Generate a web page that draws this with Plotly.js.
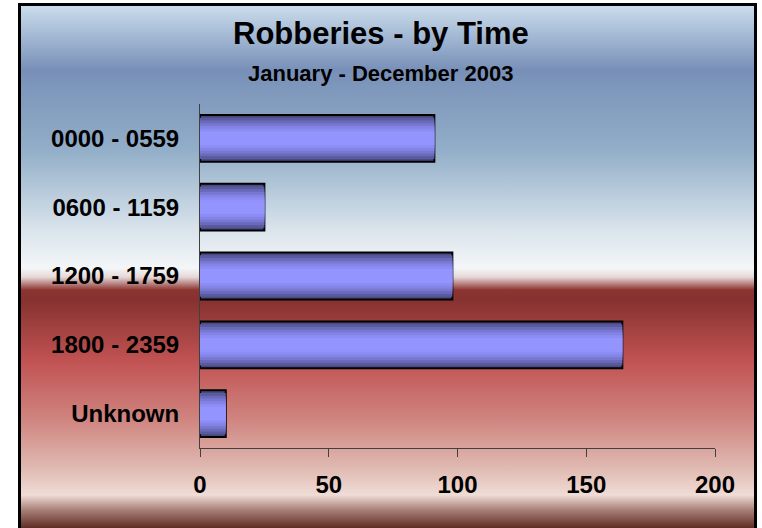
<!DOCTYPE html>
<html>
<head>
<meta charset="utf-8">
<script src="https://cdn.plot.ly/plotly-3.0.1.min.js"></script>
<style>
  html, body { margin: 0; padding: 0; background: #ffffff; }
  #wrap { position: relative; width: 762px; height: 528px; overflow: hidden; background: #ffffff; }
  #frame {
    position: absolute; left: 18px; top: 3px; width: 739px; height: 530px;
    box-sizing: border-box;
    border-left: 3px solid #000; border-top: 3px solid #000; border-right: 3px solid #000;
    background: linear-gradient(to bottom,
      #cadcec 0px, #7890b8 64px, #92aec8 144px, #dae4ec 224px, #f4f6f8 262px,
      #e6d8d8 271px, #8c3430 284px, #863230 294px, #c05252 354px, #d08580 414px,
      #e0bcb4 464px, #f0dcd6 489px, #a88078 504px, #602c24 522px);
  }
  #chart { position: absolute; left: 0; top: 0; width: 762px; height: 528px; }
</style>
</head>
<body>
<div id="wrap">
  <div id="frame"></div>
  <div id="chart"></div>
</div>
<script>
// Data
const categories = ['0000 - 0559', '0600 - 1159', '1200 - 1759', '1800 - 2359', 'Unknown'];
const robberies = [91, 25, 98, 164, 10];
const xTicks = [0, 50, 100, 150, 200];
const titleText = 'Robberies - by Time';
const subtitleText = 'January - December 2003';

// Bar shading layers (style only): outer to inner
const layerWidths = [0.68, 0.60, 0.52, 0.44, 0.36, 0.28, 0.20];
const layerColors = ['#4a4a82', '#5a5a9e', '#6a6aba', '#7878d2', '#8484e6', '#8c8cf4', '#9494ff'];

const font = 'Liberation Sans, Arial, sans-serif';

const traces = layerWidths.map((w, i) => ({
  type: 'bar',
  orientation: 'h',
  y: categories,
  x: robberies,
  width: w,
  marker: {
    color: layerColors[i],
    line: i === 0 ? { color: '#000000', width: 2 } : { width: 0 }
  },
  hoverinfo: 'skip'
}));

const layout = {
  width: 762,
  height: 528,
  paper_bgcolor: 'rgba(0,0,0,0)',
  plot_bgcolor: 'rgba(0,0,0,0)',
  margin: { l: 200, r: 47, t: 104, b: 80 },
  barmode: 'overlay',
  showlegend: false,
  font: { family: font, color: '#000000' },
  annotations: [
    {
      text: '<b>' + titleText + '</b>',
      xref: 'paper', yref: 'paper', x: 0.351, y: 1.2035,
      xanchor: 'center', yanchor: 'middle', showarrow: false,
      font: { family: font, size: 31, color: '#000000' }
    },
    {
      text: '<b>' + subtitleText + '</b>',
      xref: 'paper', yref: 'paper', x: 0.351, y: 1.090,
      xanchor: 'center', yanchor: 'middle', showarrow: false,
      font: { family: font, size: 22, color: '#000000' }
    }
  ],
  xaxis: {
    range: [0, 200],
    tickvals: xTicks,
    ticktext: xTicks.map(v => '<b>' + v + '</b>'),
    ticks: 'outside',
    ticklen: 8,
    tickwidth: 1,
    tickcolor: '#404040',
    showline: true,
    linecolor: '#404040',
    linewidth: 1,
    showgrid: false,
    zeroline: false,
    tickfont: { family: font, size: 24, color: '#000000' },
    ticklabelstandoff: 7,
    fixedrange: true
  },
  yaxis: {
    type: 'category',
    categoryorder: 'array',
    categoryarray: categories,
    autorange: 'reversed',
    ticktext: categories.map(c => '<b>' + c + '</b>'),
    tickvals: categories,
    ticks: '',
    showline: true,
    linecolor: '#404040',
    linewidth: 1,
    showgrid: false,
    zeroline: false,
    tickfont: { family: font, size: 24, color: '#000000' },
    ticklabelstandoff: 15,
    fixedrange: true
  }
};

Plotly.newPlot('chart', traces, layout, { displayModeBar: false, staticPlot: true });
</script>
</body>
</html>
